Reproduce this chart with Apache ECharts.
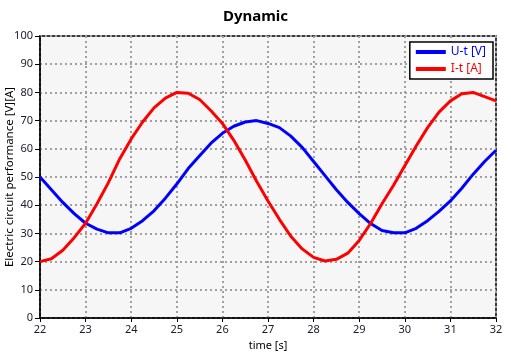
<!DOCTYPE html>
<html><head><meta charset="utf-8">
<script src="https://cdn.jsdelivr.net/npm/echarts@6/dist/echarts.min.js"></script>
<style>html,body{margin:0;padding:0;background:#fff}#c{width:511px;height:356px}</style>
</head><body><div id="c"></div>
<script>
const time = [22,22.25,22.5,22.75,23,23.25,23.5,23.75,24,24.25,24.5,24.75,25,25.25,25.5,25.75,26,26.25,26.5,26.75,27,27.25,27.5,27.75,28,28.25,28.5,28.75,29,29.25,29.5,29.75,30,30.25,30.5,30.75,31,31.25,31.5,31.75,32];
const voltage = [50,45.5,41,37,33.6,31.5,30.2,30.2,31.8,34.5,38,42.5,47.5,53,57.5,62,65.5,68,69.5,70,69,67.5,64.5,60.5,55.5,50.5,45.5,41,37,33.5,31,30.2,30.2,31.8,34.5,37.8,41.5,46,51,55.5,59.5];
const current = [20,21,24,28.5,33.6,40.5,48,56.5,63.5,69.5,74.5,78,80,79.7,77.5,73.5,69,63,56,48.5,41.5,35,29,24.5,21.5,20.2,20.8,23,27.5,33.5,40.5,47,54,61,67.5,73,77,79.5,80,78.5,77];
const seriesNames = ['U-t [V]','I-t [A]'];
const colors = ['#0000ff','#ff0000'];

const font = 'Noto Sans';
const chart = echarts.init(document.getElementById('c'));
const pairs = arr => time.map((t,i)=>[t,arr[i]]);
chart.setOption({
  animation:false,
  title:{text:'Dynamic',left:'center',top:4,textStyle:{fontFamily:font,fontSize:15,fontWeight:'bold',color:'#000'}},
  grid:{left:40,right:15,top:36,bottom:38,outerBoundsMode:'none',containLabel:false,show:true,backgroundColor:'#f6f6f6',borderColor:'#000',borderWidth:1.5},
  legend:{
    orient:'vertical',right:18,top:42,
    backgroundColor:'#fff',borderColor:'#000',borderWidth:1.5,borderRadius:0,
    padding:[3,7,3,6],itemGap:3,itemWidth:30,itemHeight:4,icon:'rect',
    data:[
      {name:seriesNames[0],textStyle:{color:colors[0]}},
      {name:seriesNames[1],textStyle:{color:colors[1]}}
    ],
    textStyle:{fontFamily:font,fontSize:12,lineHeight:14}
  },
  xAxis:{
    type:'value',min:22,max:32,interval:1,
    name:'time [s]',nameLocation:'middle',nameGap:22,nameMoveOverlap:false,
    nameTextStyle:{fontFamily:font,fontSize:11,color:'#000'},
    axisLine:{lineStyle:{color:'#000',width:1.5}},
    axisTick:{show:true,length:4,lineStyle:{color:'#000'}},
    axisLabel:{fontFamily:font,fontSize:11,color:'#1a1a2a',margin:6},
    splitLine:{show:true,lineStyle:{color:'#a0a0a0',type:[2,3],width:2}}
  },
  yAxis:{
    type:'value',min:0,max:100,interval:10,
    name:'Electric circuit performance [V][A]',nameLocation:'middle',nameGap:24,nameMoveOverlap:false,
    nameTextStyle:{fontFamily:font,fontSize:11.5,color:'#000'},
    axisLine:{show:true,lineStyle:{color:'#000',width:1.5}},
    axisTick:{show:true,length:5,lineStyle:{color:'#000'}},
    axisLabel:{fontFamily:font,fontSize:11,color:'#1a1a2a',margin:7},
    splitLine:{show:true,lineStyle:{color:'#a0a0a0',type:[2,3],width:2}}
  },
  series:[
    {name:seriesNames[0],type:'line',data:pairs(voltage),showSymbol:false,symbol:'none',lineStyle:{color:colors[0],width:3},itemStyle:{color:colors[0]}},
    {name:seriesNames[1],type:'line',data:pairs(current),showSymbol:false,symbol:'none',lineStyle:{color:colors[1],width:3},itemStyle:{color:colors[1]}}
  ]
});
</script></body></html>
